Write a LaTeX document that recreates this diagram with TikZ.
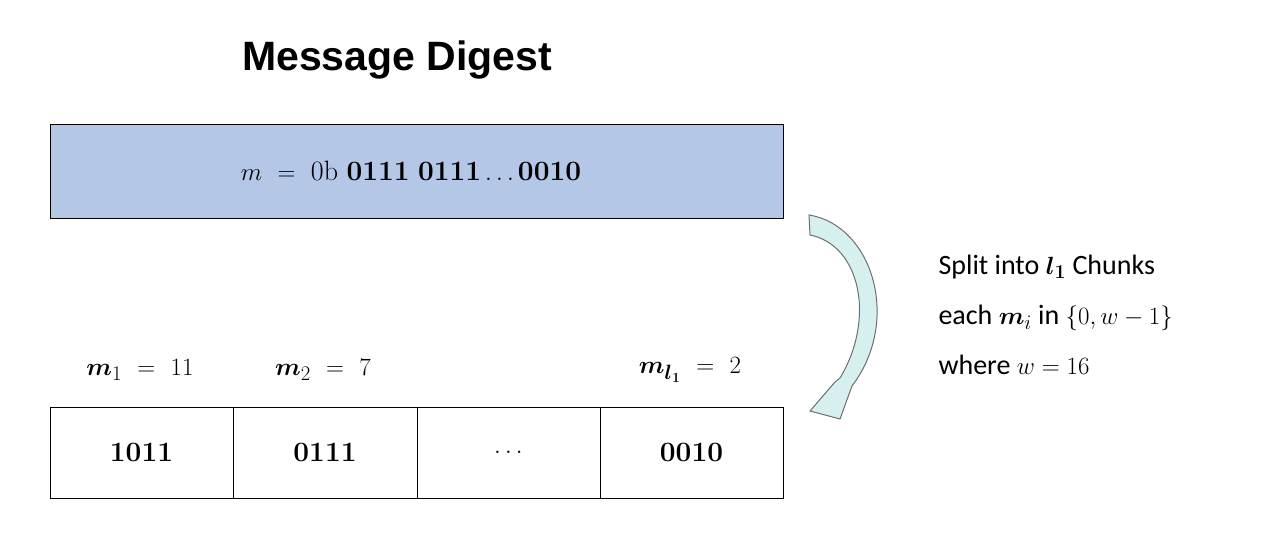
\documentclass[tikz,border=0pt]{standalone}
\usepackage{fontspec}
\usepackage{amsmath}
\setmainfont{Latin Modern Roman}
\newfontfamily\titlefont{Liberation Sans}
\newfontfamily\calib{Carlito}
\begin{document}
\begin{tikzpicture}[x=1pt,y=-1pt,
  cell/.style={draw=black,line width=1pt,minimum height=91pt,inner sep=0pt},
  lab/.style={font=\fontsize{28}{32}\selectfont}]
\useasboundingbox (0,0) rectangle (1262,540);
\node[font=\titlefont\bfseries\fontsize{41}{46}\selectfont] (title) at (397,60) {Message Digest};
\node[draw=black,line width=1pt,fill={rgb,255:red,180;green,199;blue,231},minimum width=733pt,minimum height=94pt] (msg) at (416.5,172) {};
\node[lab] (mt) at (411,171) {$m\ =\ \mathrm{0b}\ \mathbf{0111\ 0111\ldots0010}$};
\node[cell,minimum width=183pt] (c1) at (141.5,452.5) {\fontsize{28}{32}\selectfont$\mathbf{1011}$};
\node[cell,minimum width=184pt] (c2) at (325,452.5) {\fontsize{28}{32}\selectfont$\mathbf{0111}$};
\node[cell,minimum width=183pt] (c3) at (508.5,452.5) {\fontsize{28}{32}\selectfont$\mathbf{\ldots}$};
\node[cell,minimum width=183pt] (c4) at (691.5,452.5) {\fontsize{28}{32}\selectfont$\mathbf{0010}$};
\node[lab] (l1) at (140,370) {$\boldsymbol{m}_1\ =\ 11$};
\node[lab] (l2) at (323,370) {$\boldsymbol{m}_2\ =\ 7$};
\node[lab] (l3) at (690,370) {$\boldsymbol{m}_{\boldsymbol{l}_{\mathbf 1}}\ =\ 2$};
\filldraw[draw={rgb,255:red,110;green,110;blue,110},fill={rgb,255:red,214;green,240;blue,240},line width=1pt]
  (809,215) .. controls (872,225) and (902,320) .. (852,386) -- (840,419) -- (810,411) -- (835,382) -- (840,378) .. controls (876,318) and (860,245) .. (810,235) -- cycle;
\node[font=\calib\fontsize{28}{50}\selectfont,align=left,anchor=west] (txt) at (935,315)
 {Split into $\boldsymbol{l}_{\mathbf 1}$ Chunks\\ each $\boldsymbol{m}_i$ in $\{0,w-1\}$\\ where $w=16$};
\end{tikzpicture}
\end{document}
